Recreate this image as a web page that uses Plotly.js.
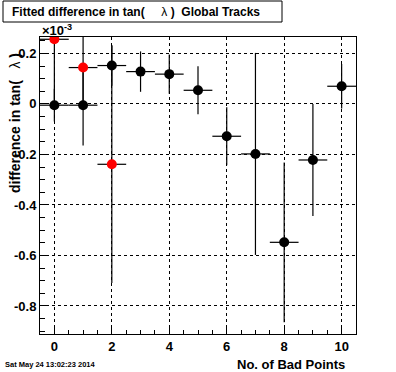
<!DOCTYPE html>
<html>
<head>
<meta charset="utf-8">
<script src="https://cdn.plot.ly/plotly-3.0.1.min.js"></script>
<style>html,body{margin:0;padding:0;background:#fff;}</style>
</head>
<body>
<div id="chart" style="width:396px;height:372px;"></div>
<script>
// Data (values in units of 1e-3)
var nBadPoints = [0, 1, 2, 3, 4, 5, 6, 7, 8, 9, 10];
var blackDiff  = [-0.005, -0.005, 0.152, 0.128, 0.118, 0.054, -0.128, -0.198, -0.548, -0.222, 0.070];
var blackErr   = [0.065, 0.16, 0.08, 0.08, 0.078, 0.095, 0.115, 0.40, 0.316, 0.222, 0.088];
var redX       = [0, 1, 2];
var redDiff    = [0.256, 0.144, -0.239];
var redErr     = [0.25, 0.15, 0.47];
var binHalfWidth = 0.5;
var yTickVals  = [-0.8, -0.6, -0.4, -0.2, 0, 0.2];
var yTickText  = ['-0.8', '-0.6', '-0.4', '-0.2', '0', '0.2'];
var xTickVals  = [0, 2, 4, 6, 8, 10];
var xTickText  = ['0', '2', '4', '6', '8', '10'];

var FONT = 'Liberation Sans, Arial, sans-serif';

var traces = [
  {
    x: nBadPoints, y: blackDiff, type: 'scatter', mode: 'markers',
    marker: {color: '#000000', size: 10},
    error_y: {type: 'data', array: blackErr, visible: true, color: '#000', thickness: 1.2, width: 0},
    error_x: {type: 'constant', value: binHalfWidth, visible: true, color: '#000', thickness: 1.2, width: 0},
    showlegend: false, hoverinfo: 'x+y'
  },
  {
    x: redX, y: redDiff, type: 'scatter', mode: 'markers',
    marker: {color: '#ff0000', size: 10},
    error_y: {type: 'data', array: redErr, visible: true, color: '#000', thickness: 1.2, width: 0},
    error_x: {type: 'constant', value: binHalfWidth, visible: true, color: '#000', thickness: 1.2, width: 0},
    showlegend: false, hoverinfo: 'x+y'
  }
];

var layout = {
  width: 396, height: 372,
  margin: {l: 40, r: 40, t: 37, b: 38, pad: 0},
  paper_bgcolor: '#ffffff', plot_bgcolor: '#ffffff',
  font: {family: FONT, color: '#000'},
  xaxis: {
    range: [-0.5, 10.5],
    tickvals: xTickVals, ticktext: xTickText,
    ticks: 'inside', ticklen: 8, tickcolor: '#000', tickwidth: 1,
    minor: {dtick: 0.5, ticks: 'inside', ticklen: 4, tickcolor: '#000', showgrid: false},
    showgrid: true, gridcolor: '#000', griddash: 'dot', gridwidth: 1,
    showline: true, linecolor: '#000', linewidth: 1, mirror: true,
    zeroline: false,
    tickfont: {family: FONT, size: 13, weight: 'bold', color: '#000'}
  },
  yaxis: {
    range: [-0.911, 0.265],
    tickvals: yTickVals, ticktext: yTickText,
    ticks: 'inside', ticklen: 9, tickcolor: '#000', tickwidth: 1,
    minor: {dtick: 0.05, tick0: 0, ticks: 'inside', ticklen: 5, tickcolor: '#000', showgrid: false},
    showgrid: true, gridcolor: '#000', griddash: 'dot', gridwidth: 1,
    showline: true, linecolor: '#000', linewidth: 1, mirror: true,
    zeroline: false,
    tickfont: {family: FONT, size: 13, weight: 'bold', color: '#000'}
  },
  shapes: [
    {type: 'rect', xref: 'paper', yref: 'paper',
     x0: (3 - 40) / 316, x1: (282 - 40) / 316,
     y0: 1 + (37 - 22) / 297, y1: 1 + (37 - 1) / 297,
     line: {color: '#000', width: 1}, fillcolor: '#fff', layer: 'above'}
  ],
  annotations: [
    {xref: 'paper', yref: 'paper', x: (10 - 40) / 316, y: 1 + (37 - 11.5) / 297,
     xanchor: 'left', yanchor: 'middle', showarrow: false,
     text: 'Fitted difference in tan(\u00A0\u00A0\u00A0\u00A0\u00A0<span style="font-weight:normal">\u03bb</span>\u00A0)\u00A0\u00A0Global Tracks',
     font: {family: FONT, size: 12, weight: 'bold', color: '#000'}},
    {xref: 'paper', yref: 'paper', x: 0, y: 1 + (37 - 30) / 297,
     xanchor: 'left', yanchor: 'middle', showarrow: false,
     text: '\u00d710<sup>-3</sup>',
     font: {family: FONT, size: 13, weight: 'bold', color: '#000'}},
    {xref: 'paper', yref: 'paper', x: (15 - 40) / 316, y: (334 - 123) / 297,
     xanchor: 'center', yanchor: 'middle', showarrow: false, textangle: -90,
     text: 'difference in tan(\u00A0\u00A0\u00A0<span style="font-weight:normal">\u03bb</span>\u00A0)',
     font: {family: FONT, size: 14, weight: 'bold', color: '#000'}},
    {xref: 'paper', yref: 'paper', x: (347 - 40) / 316, y: (334 - 364) / 297,
     xanchor: 'right', yanchor: 'middle', showarrow: false,
     text: 'No. of Bad Points',
     font: {family: FONT, size: 13, weight: 'bold', color: '#000'}},
    {xref: 'paper', yref: 'paper', x: (3 - 40) / 316, y: (334 - 364) / 297,
     xanchor: 'left', yanchor: 'middle', showarrow: false,
     text: 'Sat May 24 13:02:23 2014',
     font: {family: FONT, size: 7.5, weight: 'bold', color: '#000'}}
  ]
};

Plotly.newPlot('chart', traces, layout, {displayModeBar: false, staticPlot: true});
</script>
</body>
</html>
